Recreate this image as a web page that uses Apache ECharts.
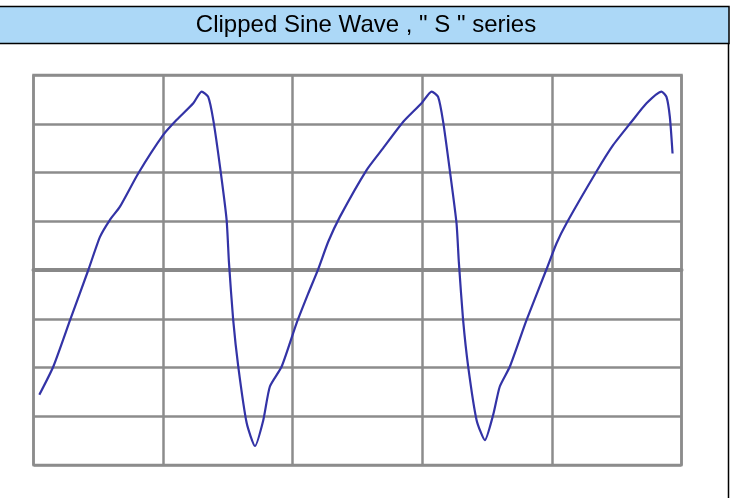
<!DOCTYPE html>
<html>
<head>
<meta charset="utf-8">
<style>
  html, body { margin: 0; padding: 0; background: #ffffff; }
  #chart { width: 734px; height: 498px; }
</style>
<script src="https://cdn.jsdelivr.net/npm/echarts@6/dist/echarts.min.js"></script>
</head>
<body>
<div id="chart"></div>
<script>
// Title text
var chartTitle = 'Clipped Sine Wave , " S " series';

// Time positions (in grid divisions, 0..5)
var timeValues = [
  0.045, 0.153, 0.282, 0.423, 0.513, 0.590, 0.667, 0.808, 1.001, 1.105,
  1.233, 1.297, 1.348, 1.387, 1.439, 1.490, 1.508, 1.541, 1.580, 1.645,
  1.709, 1.773, 1.824, 1.915, 2.030, 2.120, 2.197, 2.274, 2.364, 2.570,
  2.698, 2.853, 2.994, 3.072, 3.122, 3.161, 3.212, 3.264, 3.282, 3.315,
  3.354, 3.419, 3.483, 3.547, 3.598, 3.676, 3.804, 3.959, 4.036, 4.113,
  4.344, 4.472, 4.614, 4.730, 4.846, 4.884, 4.910, 4.931
];

// Signal amplitude (in grid divisions, -4..4)
var signalValues = [
  -2.56, -1.98, -1.03, 0.00, 0.68, 1.03, 1.30, 1.98, 2.77, 3.08,
  3.42, 3.66, 3.55, 3.08, 2.12, 1.03, 0.16, -1.03, -1.98, -3.14,
  -3.61, -3.08, -2.39, -1.98, -1.09, -0.48, 0.02, 0.58, 1.09, 2.05,
  2.50, 3.04, 3.42, 3.66, 3.55, 3.04, 2.05, 0.96, 0.16, -1.03,
  -1.98, -3.08, -3.49, -2.97, -2.39, -1.98, -1.03, 0.02, 0.55, 0.96,
  2.02, 2.56, 3.04, 3.42, 3.66, 3.55, 3.14, 2.39
];

var seriesData = timeValues.map(function (t, i) { return [t, signalValues[i]]; });

var chart = echarts.init(document.getElementById('chart'), null, { renderer: 'canvas' });

var gridColor = '#8c8c8c';

chart.setOption({
  animation: false,
  backgroundColor: '#ffffff',
  graphic: [
    {
      type: 'rect',
      shape: { x: -2, y: 6.5, width: 731, height: 37 },
      style: { fill: '#acd8f7', stroke: '#000000', lineWidth: 1.5 },
      z: 10
    },
    {
      type: 'text',
      x: 366, y: 25,
      style: {
        text: chartTitle,
        fill: '#000000',
        font: '24px "Liberation Sans", Arial, sans-serif',
        align: 'center',
        verticalAlign: 'middle'
      },
      z: 11
    },
    {
      type: 'line',
      shape: { x1: 728.5, y1: 43, x2: 728.5, y2: 498 },
      style: { stroke: '#000000', lineWidth: 1.5 },
      z: 10
    }
  ],
  grid: {
    left: 33.5, top: 75, width: 648, height: 390,
    show: true,
    borderColor: gridColor,
    borderWidth: 2.5,
    containLabel: false
  },
  xAxis: {
    type: 'value',
    min: 0, max: 5, interval: 1,
    axisLabel: { show: false },
    axisTick: { show: false },
    axisLine: { show: true, onZero: true, lineStyle: { color: '#888888', width: 4 } },
    splitLine: { show: true, lineStyle: { color: gridColor, width: 2.5 } }
  },
  yAxis: {
    type: 'value',
    min: -4, max: 4, interval: 1,
    axisLabel: { show: false },
    axisTick: { show: false },
    axisLine: { show: false },
    splitLine: { show: true, lineStyle: { color: gridColor, width: 2.5 } }
  },
  series: [
    {
      type: 'line',
      data: seriesData,
      smooth: 0.2,
      showSymbol: false,
      symbol: 'none',
      lineStyle: { color: '#3333a6', width: 2.2 },
      z: 5
    }
  ]
});
</script>
</body>
</html>
